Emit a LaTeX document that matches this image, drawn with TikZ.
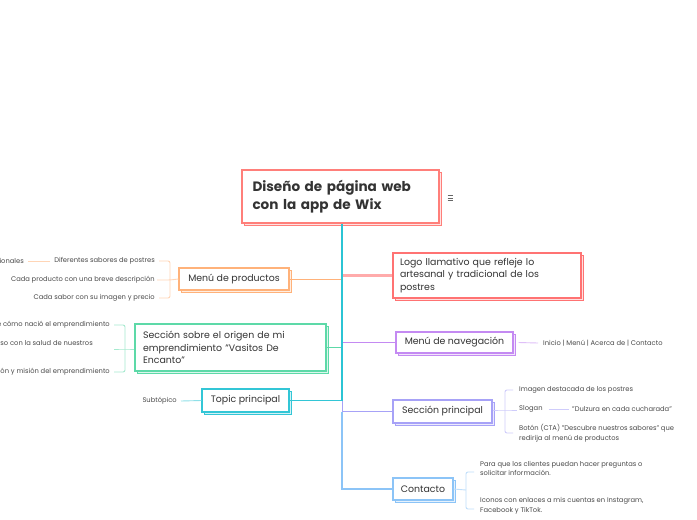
\documentclass[tikz,border=0pt]{standalone}
\usepackage{fontspec}
\setmainfont{Poppins}
\usetikzlibrary{shadows}
\definecolor{txt}{HTML}{333333}
\definecolor{ctxt}{HTML}{4A4A4A}
\definecolor{cCentral}{HTML}{FF7F7A}
\definecolor{cLogo}{HTML}{FF7373}
\definecolor{cOrange}{HTML}{FFB27A}
\definecolor{cGreen}{HTML}{5DD9A8}
\definecolor{cTeal}{HTML}{33C6D6}
\definecolor{cPurple}{HTML}{C48AF2}
\definecolor{cLav}{HTML}{A7A2F7}
\definecolor{cBlue}{HTML}{8CC4F7}
\definecolor{cTrunk}{HTML}{2BC4D4}
\tikzset{
  box/.style={draw=#1, line width=1.1pt, fill=white, rectangle, inner sep=0pt, text=txt,
    copy shadow={shadow xshift=2.5pt, shadow yshift=-2.5pt, draw=#1, fill=#1!22, line width=1.1pt}},
  topicfont/.style={font=\fontsize{9.4}{12.6}\selectfont},
  leaf/.style={text=ctxt, inner sep=2pt, font=\fontsize{6.75}{9.8}\selectfont},
  branch/.style={draw=#1, line width=1pt},
  twig/.style={draw=#1!55, line width=0.9pt, rounded corners=2pt},
}
\begin{document}
\begin{tikzpicture}[x=1pt,y=-1pt]
\useasboundingbox (0,0) rectangle (697,520);
\clip (0,0) rectangle (697,520);
\fill[white] (0,0) rectangle (697,520);

% main nodes
\node[box=cCentral, minimum width=197pt, minimum height=53pt, text width=176pt, align=left,
      font=\bfseries\fontsize{13.6}{17.5}\selectfont] (central) at (340.5,196.5) {Diseño de página web\\con la app de Wix};
\node[box=cLogo, minimum width=188pt, minimum height=45pt, text width=174pt, align=left, topicfont] (logo) at (487,275.5)
  {Logo llamativo que refleje lo\\artesanal y tradicional de los\\postres};
\node[box=cPurple, minimum width=117pt, minimum height=21pt, topicfont] (nav) at (454.5,342.5) {Menú de navegación};
\node[box=cLav, minimum width=99pt, minimum height=23pt, topicfont] (secprin) at (442.5,411.5) {Sección principal};
\node[box=cBlue, minimum width=60pt, minimum height=22pt, topicfont] (contacto) at (423,489) {Contacto};
\node[box=cOrange, minimum width=110pt, minimum height=22pt, topicfont] (menu) at (234,279) {Menú de productos};
\node[box=cGreen, minimum width=191pt, minimum height=47pt, text width=175pt, align=left, topicfont] (sobre) at (230.5,347.5)
  {Sección sobre el origen de mi\\emprendimiento "Vasitos De\\Encanto"};
\node[box=cTeal, minimum width=87pt, minimum height=23pt, topicfont] (topic) at (245.5,400.5) {Topic principal};

% menu icon
\draw[line width=0.6pt, draw=black!60] (447.5,195.5) -- (452.5,195.5) (447.5,198) -- (452.5,198) (447.5,200.5) -- (452.5,200.5);

% trunk connectors
\coordinate (trunk) at ([xshift=1.5pt]central.south);
\draw[branch=cLogo!60, line width=2.2pt] (trunk |- logo.west) -- (logo.west);
\draw[branch=cPurple] (trunk |- nav.west) -- (nav.west);
\draw[branch=cOrange] (trunk |- menu.east) -- (menu.east);
\draw[branch=cGreen] (trunk |- sobre.east) -- (sobre.east);
\draw[branch=cLav] (trunk |- topic.east) |- (secprin.west);
\draw[branch=cBlue, line width=1.4pt] (trunk |- secprin.west) |- (contacto.west);
\draw[branch=cTeal] (topic.east) -- (trunk |- topic.east);
\draw[draw=cTrunk, line width=1.6pt] (trunk) -- (trunk |- topic.east);

% Menu de productos children
\node[leaf, anchor=east] (mp1) at (157,261) {Diferentes sabores de postres};
\node[leaf, anchor=east] (mp2) at (157,280) {Cada producto con una breve descripción};
\node[leaf, anchor=east] (mp3) at (157,298) {Cada sabor con su imagen y precio};
\node[leaf, anchor=east] (mp1a) at (26,261) {Postres tradicionales};
\coordinate (mpb) at (170,280);
\draw[twig=cOrange] (menu.west) -- (mpb) -- (mp2.east);
\draw[twig=cOrange] ([xshift=2pt]mp1.east) -- (mp1.east -| mpb) -- (mp3.east -| mpb) -- ([xshift=2pt]mp3.east);
\draw[twig=cOrange] ([xshift=-2pt]mp1.west) -- ([xshift=2pt]mp1a.east);

% Seccion sobre children
\node[leaf, anchor=east] (ss1) at (112,325) {Historia de cómo nació el emprendimiento};
\node[leaf, anchor=east] (ss2) at (95,344) {Nuestro compromiso con la salud de nuestros};
\node[leaf, anchor=east] (ss3) at (112,372) {Visión y misión del emprendimiento};
\coordinate (ssb) at (125,349);
\draw[twig=cGreen] (sobre.west |- ssb) -- (ssb) -- ([xshift=2pt]ss1.east |- ssb);
\draw[twig=cGreen] ([xshift=2pt]ss1.east) -- (ss1.east -| ssb) -- (ss3.east -| ssb) -- ([xshift=2pt]ss3.east);

% Topic principal child
\node[leaf, anchor=east] (sub) at (179,401) {Subtópico};
\draw[twig=cTeal] (topic.west) -- ([xshift=2pt]sub.east);

% Menu de navegacion child
\node[leaf, anchor=west] (nav1) at (541,343) {Inicio | Menú | Acerca de | Contacto};
\draw[twig=cPurple] ([xshift=5pt]nav.east) -- ([xshift=-3pt]nav1.west);

% Seccion principal children
\node[leaf, anchor=west] (sp1) at (517,390) {Imagen destacada de los postres};
\node[leaf, anchor=west] (sp2) at (517,409) {Slogan};
\node[leaf, anchor=west] (sp2a) at (570,409) {"Dulzura en cada cucharada"};
\node[leaf, anchor=west, align=left] (sp3) at (517,433) {Botón (CTA) "Descubre nuestros sabores" que\\redirija al menú de productos};
\coordinate (spb) at (505,410);
\draw[twig=cLav] (secprin.east |- spb) -- (spb) -- (sp2.west |- spb);
\draw[twig=cLav] ([xshift=-4pt]sp1.west) -- (sp1.west -| spb) -- (sp3.west -| spb) -- ([xshift=-4pt]sp3.west);
\draw[twig=cLav] ([xshift=4pt]sp2.east) -- ([xshift=-1pt]sp2a.west);

% Contacto children
\node[leaf, anchor=west, align=left] (ct1) at (478,468.5) {Para que los clientes puedan hacer preguntas o\\solicitar información.};
\node[leaf, anchor=west, align=left] (ct2) at (478,506) {Iconos con enlaces a mis cuentas en Instagram,\\Facebook y TikTok.};
\coordinate (ctb) at (466,490);
\draw[twig=cBlue] (contacto.east) -- (ctb);
\draw[twig=cBlue] ([xshift=-4pt]ct1.west |- 0,472) -- (ctb |- 0,472) -- (ctb |- 0,509) -- ([xshift=-4pt]ct2.west |- 0,509);
\end{tikzpicture}
\end{document}
